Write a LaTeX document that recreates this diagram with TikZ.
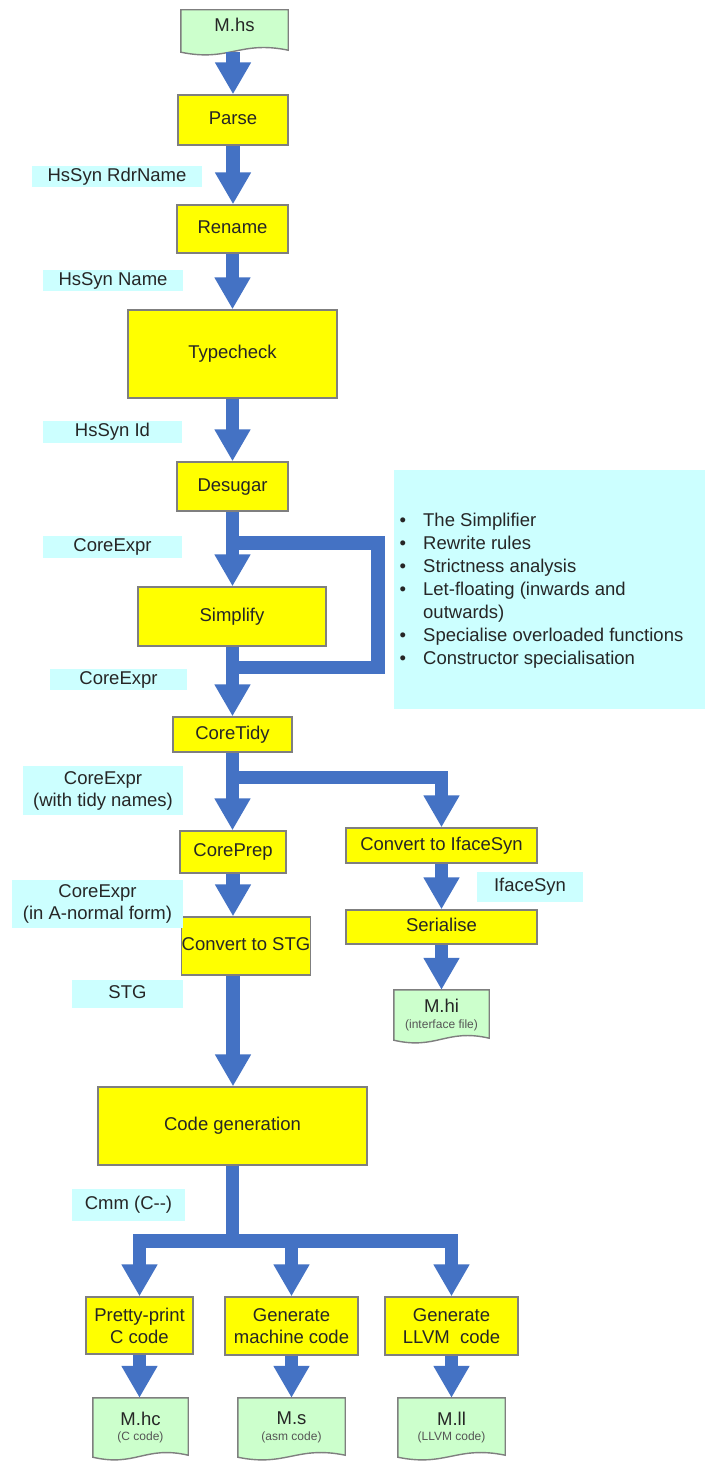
\documentclass[tikz,border=0pt]{standalone}
\usepackage{fontspec}
\setmainfont{Liberation Sans}
\usetikzlibrary{arrows.meta,calc,backgrounds}
\definecolor{flowblue}{HTML}{4472C4}
\definecolor{boxyellow}{HTML}{FFFF00}
\definecolor{lblcyan}{HTML}{CCFFFF}
\definecolor{docgreen}{HTML}{CCFFCC}
\definecolor{edgegray}{HTML}{7F7F7F}
\definecolor{inkgray}{HTML}{262626}
\definecolor{subgray}{HTML}{555555}
\newcommand\mainsize{\fontsize{18.5}{22}\selectfont}
\newcommand\subsize{\fontsize{12}{14}\selectfont}
\newcommand\wavedoc[1]{%
  \path[docshape] (#1.north west) -- (#1.north east) -- ($(#1.south east)+(0,-2)$)
    .. controls ($(#1.south east)!0.45!(#1.south west)+(0,-12)$) and ($(#1.south west)!0.45!(#1.south east)+(0,10)$) .. (#1.south west) -- cycle;}
\tikzset{
  stagebox/.style={draw=edgegray, fill=boxyellow, line width=1.4pt, inner sep=0pt,
    align=center, text=inkgray, font=\mainsize},
  oneline/.style={text height=13.5pt, text depth=4pt},
  tagbox/.style={fill=lblcyan, inner sep=0pt, align=center, text=inkgray, font=\mainsize},
  docnode/.style={inner sep=0pt, align=center, text=inkgray, font=\mainsize},
  docshape/.style={draw=edgegray, fill=docgreen, line width=1.4pt},
  flow/.style={draw=flowblue, line width=13.5pt, line join=miter,
    -{Triangle[width=34pt,length=32pt]}},
  flowline/.style={draw=flowblue, line width=13.5pt, line join=miter},
}
\begin{document}
\begin{tikzpicture}[x=1pt,y=-1pt]
\useasboundingbox (0,0) rectangle (705,1463);

% documents (text nodes; shapes on background)
\node[docnode, minimum width=107pt, minimum height=42pt, text height=13.5pt, text depth=12pt] (mhs) at (234.5,31) {M.hs};
\node[docnode, minimum width=95pt, minimum height=50pt] (mhi) at (441.5,1015) {M.hi\\[-6.5pt]{\subsize\color{subgray}(interface file)}};
\node[docnode, minimum width=95pt, minimum height=59pt] (mhc) at (140.5,1427.5) {M.hc\\[-6.5pt]{\subsize\color{subgray}(C code)}};
\node[docnode, minimum width=107pt, minimum height=59pt] (ms) at (291.5,1427.5) {M.s\\[-6.5pt]{\subsize\color{subgray}(asm code)}};
\node[docnode, minimum width=107pt, minimum height=59pt] (mll) at (451.5,1427.5) {M.ll\\[-6.5pt]{\subsize\color{subgray}(LLVM code)}};
\begin{pgfonlayer}{background}
  \fill[white] (0,0) rectangle (705,1463);
  \wavedoc{mhs}
  \wavedoc{mhi}
  \wavedoc{mhc}
  \wavedoc{ms}
  \wavedoc{mll}
\end{pgfonlayer}

% stage boxes
\node[stagebox, oneline, minimum width=110pt, minimum height=50pt] (parse) at (233,120) {Parse};
\node[stagebox, oneline, minimum width=111pt, minimum height=48pt] (rename) at (232.5,229) {Rename};
\node[stagebox, oneline, minimum width=209pt, minimum height=88pt] (typecheck) at (232.5,354) {Typecheck};
\node[stagebox, oneline, minimum width=111pt, minimum height=49pt] (desugar) at (232.5,486.5) {Desugar};
\node[stagebox, oneline, minimum width=188pt, minimum height=59pt] (simplify) at (232,616.5) {Simplify};
\node[stagebox, oneline, minimum width=119pt, minimum height=35pt] (coretidy) at (232.5,734.5) {CoreTidy};
\node[stagebox, oneline, minimum width=106pt, minimum height=42pt] (coreprep) at (233,852) {CorePrep};
\node[stagebox, oneline, minimum width=191pt, minimum height=35pt] (convif) at (441.5,845.5) {Convert to IfaceSyn};
\node[stagebox, oneline, minimum width=191pt, minimum height=34pt] (serialise) at (441.5,927) {Serialise};
\node[stagebox, oneline, minimum width=120pt, minimum height=58pt] (convstg) at (246,946) {Convert to STG};
\node[stagebox, oneline, minimum width=269pt, minimum height=78pt] (codegen) at (232.5,1126) {Code generation};
\node[stagebox, minimum width=107pt, minimum height=57pt] (pp) at (139.5,1325.5) {Pretty-print\\C code};
\node[stagebox, minimum width=133pt, minimum height=58pt] (gm) at (291.5,1326) {Generate\\machine code};
\node[stagebox, minimum width=133pt, minimum height=58pt] (gl) at (451.5,1326) {Generate\\LLVM~ code};

% type labels
\node[tagbox, oneline, minimum width=170pt, minimum height=21pt] (rdr) at (117,176.5) {HsSyn RdrName};
\node[tagbox, oneline, minimum width=140pt, minimum height=21pt] (hsname) at (113,280.5) {HsSyn Name};
\node[tagbox, oneline, minimum width=139pt, minimum height=22pt] (hsid) at (112.5,432) {HsSyn Id};
\node[tagbox, oneline, minimum width=139pt, minimum height=22pt] (ceone) at (112.5,547) {CoreExpr};
\node[tagbox, oneline, minimum width=137pt, minimum height=21pt] (cetwo) at (118.5,679.5) {CoreExpr};
\node[tagbox, minimum width=160pt, minimum height=49pt] (cetidy) at (103,790.5) {CoreExpr\\(with tidy names)};
\node[tagbox, minimum width=171pt, minimum height=48pt] (ceanf) at (97.5,904) {CoreExpr\\(in A-normal form)};
\node[tagbox, oneline, minimum width=111pt, minimum height=28pt] (stg) at (127.5,994) {STG};
\node[tagbox, oneline, minimum width=113pt, minimum height=32pt] (cmm) at (128.5,1205) {Cmm (C-{}-)};
\node[tagbox, oneline, minimum width=106pt, minimum height=30pt] (iface) at (530,887) {IfaceSyn};

% simplifier info box
\node[fill=lblcyan, inner sep=0pt, minimum width=311pt, minimum height=239pt] (infobox) at (549.5,589.5) {};
\node[anchor=north west, inner sep=0pt, text=inkgray, font=\fontsize{18.5}{23}\selectfont] (infolist) at (399.5,510)
  {\begin{tabular}{@{}l@{\hspace{17pt}}l@{}}
   \textbullet & The Simplifier\\
   \textbullet & Rewrite rules\\
   \textbullet & Strictness analysis\\
   \textbullet & Let-floating (inwards and\\
               & outwards)\\
   \textbullet & Specialise overloaded functions\\
   \textbullet & Constructor specialisation
   \end{tabular}};

% connectors
\coordinate (loopa) at (233,543);
\coordinate (loopb) at (378,667.5);
\coordinate (tidyfork) at (441.5,777.5);
\coordinate (cgleft) at (139.5,1241);
\coordinate (cgmid) at (291.5,1241);
\coordinate (cgright) at (451.5,1241);

\draw[flow] (parse.north |- mhs.south) -- (parse.north);
\draw[flow] (parse.south) -- (parse.south |- rename.north);
\draw[flow] (rename.south) -- (rename.south |- typecheck.north);
\draw[flow] (typecheck.south) -- (typecheck.south |- desugar.north);
\draw[flow] (desugar.south) -- (desugar.south |- simplify.north);
\draw[flowline] (loopa) -| (loopb) -- (loopb -| desugar.south);
\draw[flow] (simplify.south -| desugar.south) -- (desugar.south |- coretidy.north);
\draw[flow] (coretidy.south) -- (coretidy.south |- coreprep.north);
\draw[flow] (coretidy.south) |- (tidyfork) -- (tidyfork |- convif.north);
\draw[flow] (convif.south) -- (serialise.north);
\draw[flow] (serialise.south) -- (mhi.north);
\draw[flow] (coreprep.south) -- (coreprep.south |- convstg.north);
\draw[flow] (coreprep.south |- convstg.south) -- (coreprep.south |- codegen.north);
\draw[flow] (codegen.south) |- (cgleft) -- (cgleft |- pp.north);
\draw[flow] (codegen.south) |- (cgmid) -- (cgmid |- gm.north);
\draw[flow] (codegen.south) |- (cgright) -- (cgright |- gl.north);
\draw[flow] (pp.south) -- (pp.south |- mhc.north);
\draw[flow] (gm.south) -- (gm.south |- ms.north);
\draw[flow] (gl.south) -- (gl.south |- mll.north);
\end{tikzpicture}
\end{document}
